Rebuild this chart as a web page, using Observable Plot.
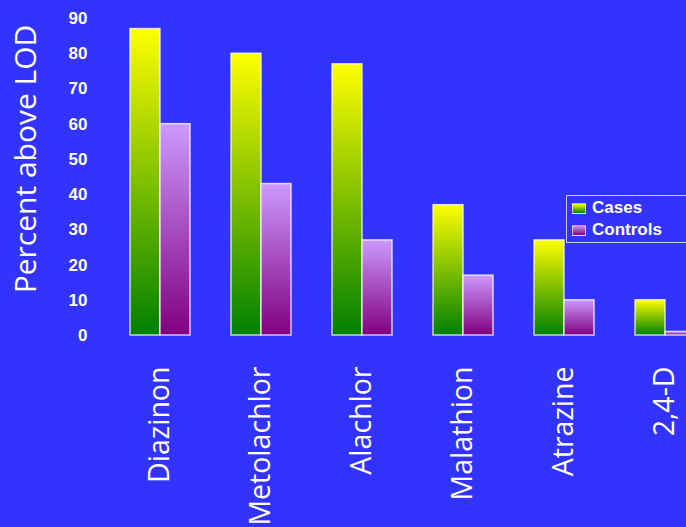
<!DOCTYPE html>
<html>
<head>
<meta charset="utf-8">
<script src="https://cdn.jsdelivr.net/npm/d3@7"></script>
<script src="https://cdn.jsdelivr.net/npm/@observablehq/plot@0.6"></script>
<style>
  html, body { margin: 0; padding: 0; background: #3333FF; overflow: hidden; width: 686px; height: 527px; }
  #wrap { position: relative; width: 686px; height: 527px; }
  #ytitle { position: absolute; left: 24px; top: 159px; transform: translate(-50%, -50%) rotate(-90deg);
    font-family: "Open Sans", sans-serif; font-size: 30px; color: white; white-space: nowrap; }
  #legend { position: absolute; left: 566px; top: 195px; width: 140px; height: 46px; border: 1px solid #c8c8f0;
    font-family: "Liberation Sans", Arial, sans-serif; font-weight: bold; font-size: 17px; color: white; }
  .item { position: absolute; left: 5px; display: flex; align-items: center; }
  .sw { width: 14px; height: 11px; margin-right: 6px; box-sizing: border-box; border: 1px solid rgba(255,255,255,0.6); }
</style>
</head>
<body>
<div id="wrap">
  <div id="chart"></div>
  <div id="ytitle"></div>
  <div id="legend"></div>
</div>
<script>
const categories = ["Diazinon", "Metolachlor", "Alachlor", "Malathion", "Atrazine", "2,4-D"];
const seriesNames = ["Cases", "Controls"];
const cases = [87, 80, 77, 37, 27, 10];
const controls = [60, 43, 27, 17, 10, 1];
const yTicks = [0, 10, 20, 30, 40, 50, 60, 70, 80, 90];
const yTitle = "Percent above LOD";

const table = [];
categories.forEach((c, i) => {
  table.push({category: c, series: seriesNames[0], value: cases[i]});
  table.push({category: c, series: seriesNames[1], value: controls[i]});
});

const plot = Plot.plot({
  width: 736,
  height: 527,
  marginTop: 18,
  marginBottom: 192,
  marginLeft: 88,
  marginRight: 0,
  style: {background: "#3333FF", maxWidth: "none", color: "white", fontFamily: "'Liberation Sans', Arial, sans-serif", fontSize: "17px", fontWeight: "bold"},
  fx: {domain: categories, paddingInner: 0.4, paddingOuter: 0.4, axis: null, label: null},
  x: {domain: seriesNames, padding: 0, axis: null},
  y: {domain: [0, 90], ticks: yTicks, tickSize: 0, tickPadding: 42, label: null},
  marks: [
    Plot.barY(table.filter(d => d.series === "Cases"), {fx: "category", x: "series", y: "value", fill: "url(#gCases)", stroke: "white", strokeOpacity: 0.75, strokeWidth: 1.5}),
    Plot.barY(table.filter(d => d.series === "Controls"), {fx: "category", x: "series", y: "value", fill: "url(#gControls)", stroke: "white", strokeOpacity: 0.75, strokeWidth: 1.5}),
    Plot.text(categories, {fx: d => d, text: d => d, frameAnchor: "bottom", rotate: -90, textAnchor: "end", lineAnchor: "middle", dy: 31, fontSize: 28.5, fontWeight: "normal", fontFamily: "'Open Sans', sans-serif", fill: "white"})
  ]
});

const svg = d3.select(plot);
const defs = svg.insert("defs", ":first-child");
const g1 = defs.append("linearGradient").attr("id", "gCases").attr("x1", 0).attr("y1", 0).attr("x2", 0).attr("y2", 1);
g1.append("stop").attr("offset", "0%").attr("stop-color", "#FFFF00");
g1.append("stop").attr("offset", "100%").attr("stop-color", "#008000");
const g2 = defs.append("linearGradient").attr("id", "gControls").attr("x1", 0).attr("y1", 0).attr("x2", 0).attr("y2", 1);
g2.append("stop").attr("offset", "0%").attr("stop-color", "#CC99FF");
g2.append("stop").attr("offset", "100%").attr("stop-color", "#800080");

document.getElementById("chart").appendChild(plot);
document.getElementById("ytitle").textContent = yTitle;

const legend = document.getElementById("legend");
const swatches = ["linear-gradient(#FFFF00, #008000)", "linear-gradient(#CC99FF, #800080)"];
seriesNames.forEach((name, i) => {
  const item = document.createElement("div");
  item.className = "item";
  item.style.top = (i === 0 ? 2 : 24) + "px";
  const sw = document.createElement("div");
  sw.className = "sw";
  sw.style.background = swatches[i];
  const t = document.createElement("span");
  t.textContent = name;
  item.appendChild(sw);
  item.appendChild(t);
  legend.appendChild(item);
});
</script>
</body>
</html>
